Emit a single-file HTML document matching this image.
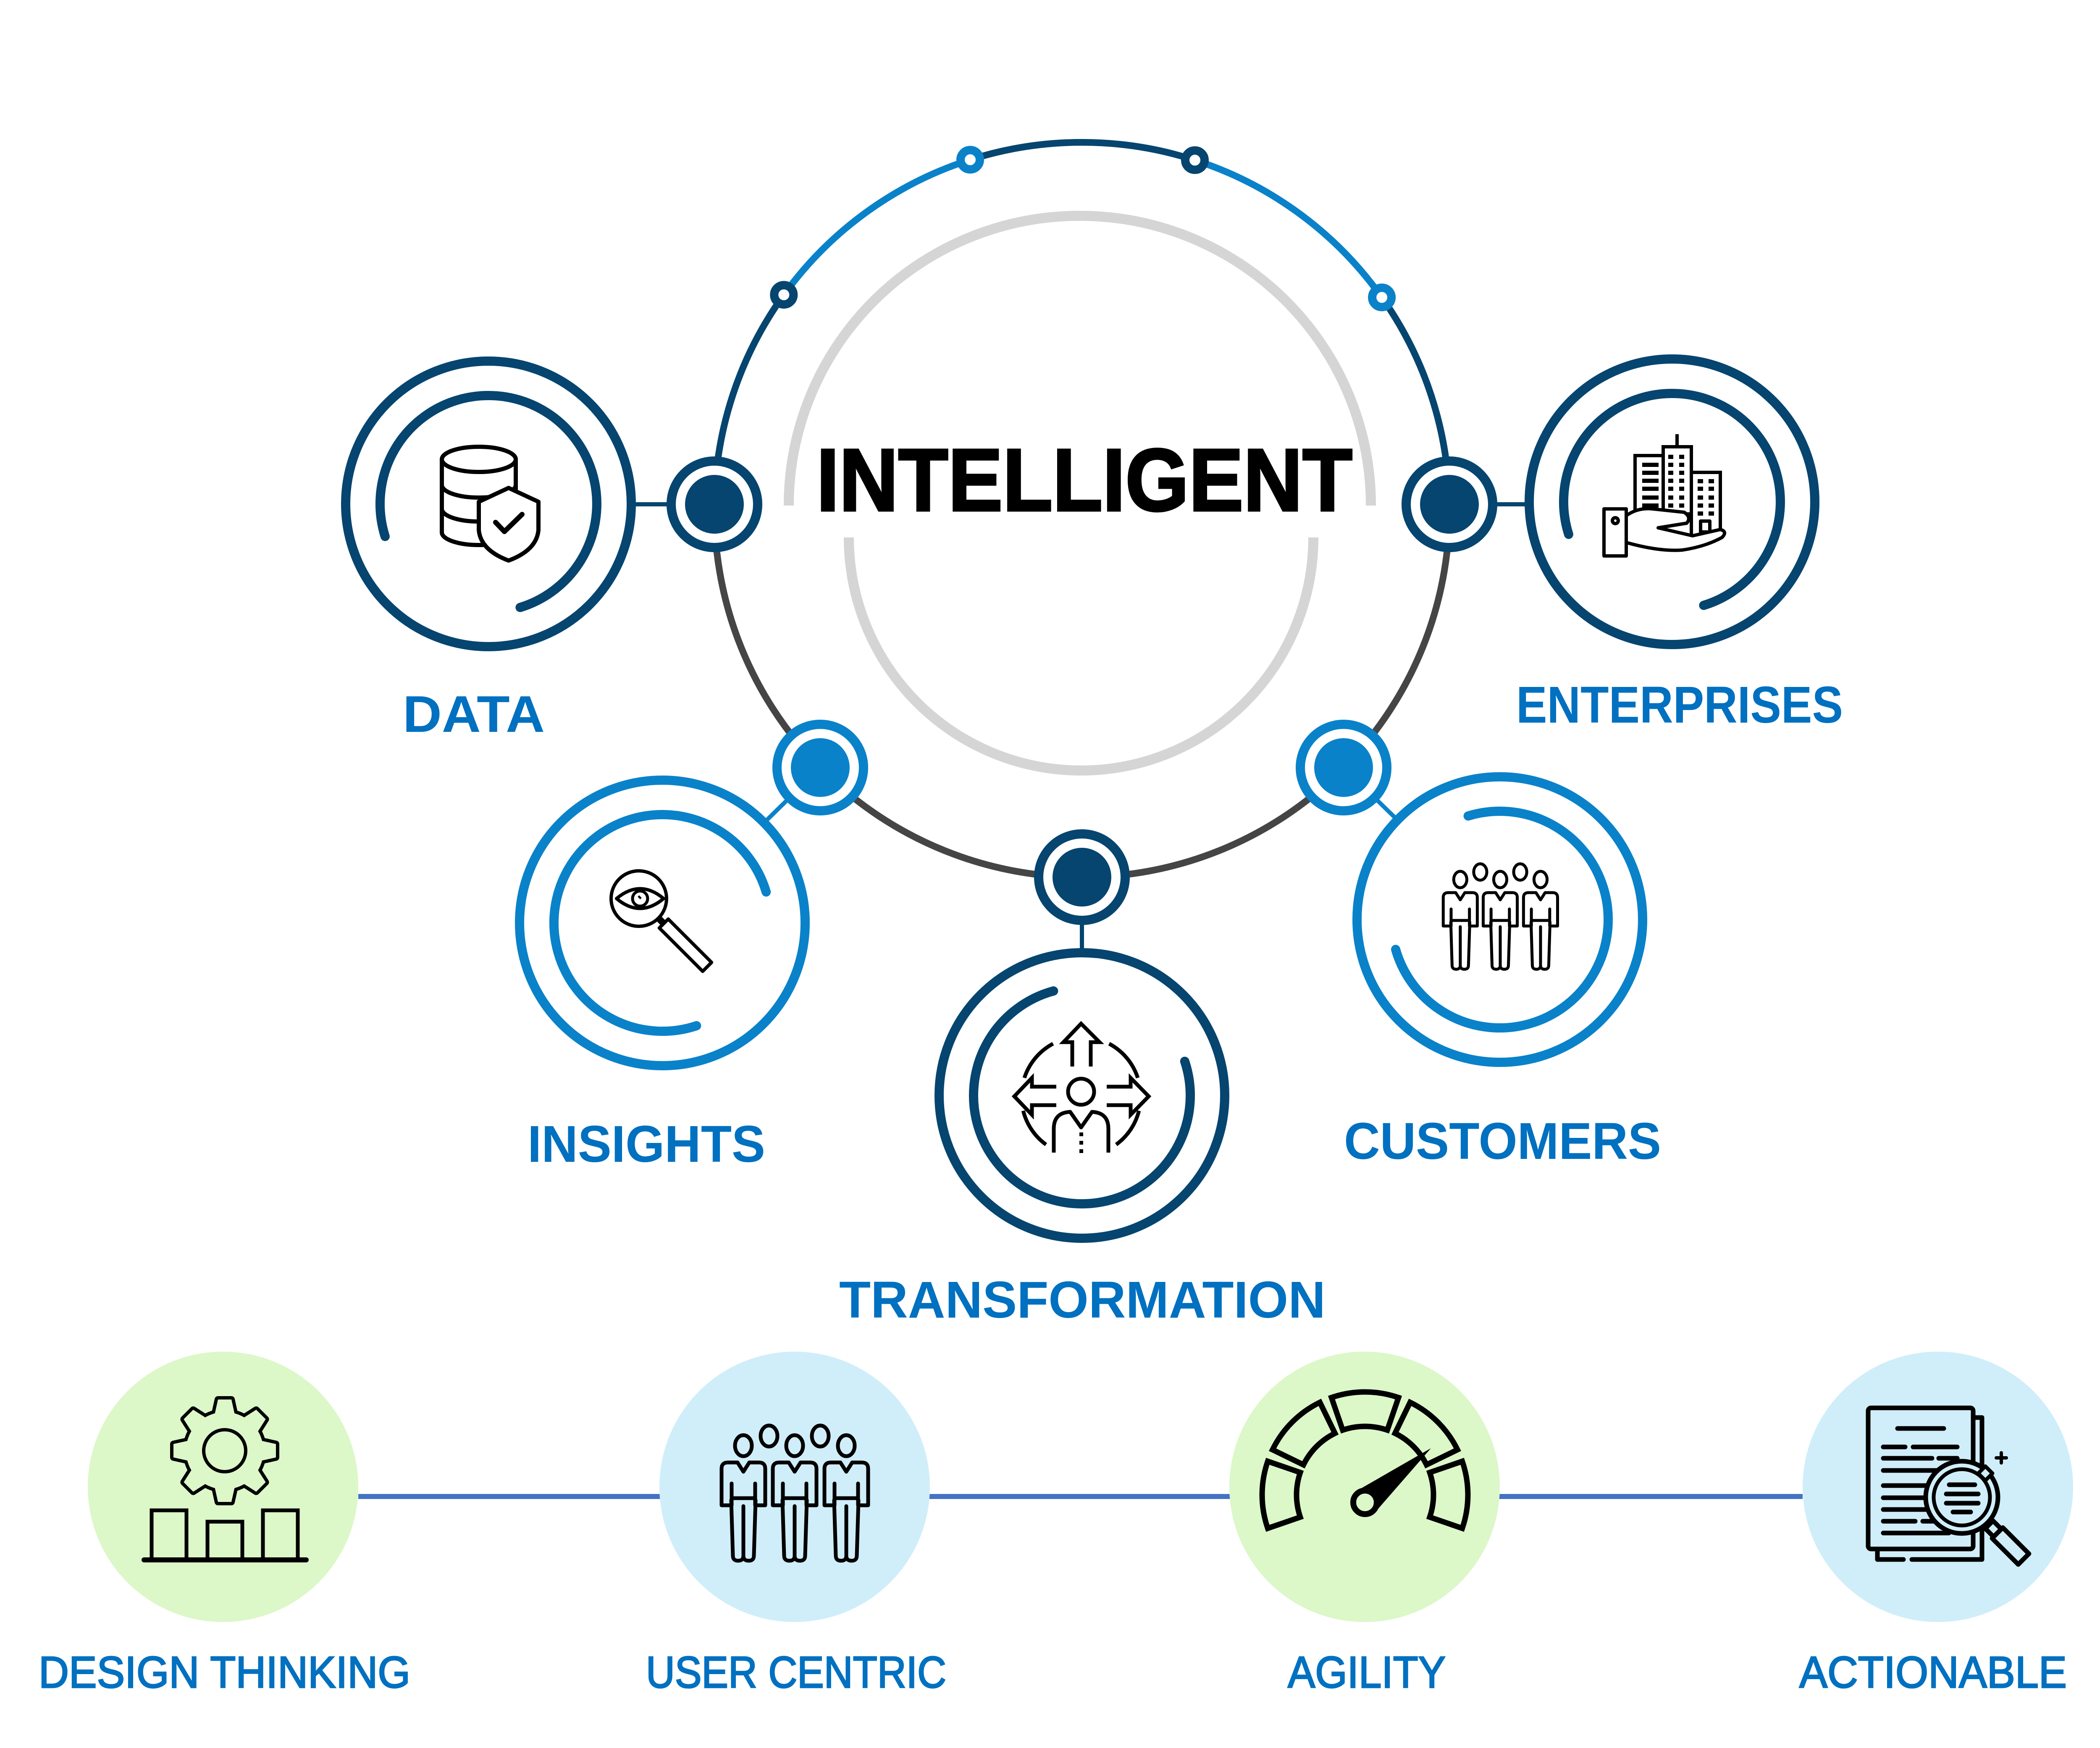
<!DOCTYPE html>
<html><head><meta charset="utf-8">
<style>
html,body{margin:0;padding:0;background:#ffffff;width:5093px;height:4163px;overflow:hidden;}
svg{display:block}
</style></head>
<body>
<svg width="5093" height="4163" viewBox="0 0 5093 4163" xmlns="http://www.w3.org/2000/svg">
<defs>
  <g id="person">
    <path d="M-28,50 L-28,102 L-52,102 L-52,15 Q-52,0 -37,0 L-14,0 L0,22 L14,0 L37,0 Q52,0 52,15 L52,102 L28,102 L28,50 M-28,85 L28,85 M-29,90 L-25,222 Q-25,234 -12.5,234 Q0,234 0,222 L0,104 M0,222 Q0,234 12.5,234 Q25,234 25,222 L29,90"/>
  </g>
  <g id="people" fill="none" stroke="#000" stroke-width="9" stroke-linejoin="round" stroke-linecap="round">
    <ellipse cx="-61" cy="-135" rx="20" ry="25"/>
    <ellipse cx="61" cy="-135" rx="20" ry="25"/>
    <ellipse cx="-122" cy="-112" rx="20" ry="25"/>
    <ellipse cx="0" cy="-112" rx="20" ry="25"/>
    <ellipse cx="123" cy="-112" rx="20" ry="25"/>
    <use href="#person" transform="translate(-122,-72)"/>
    <use href="#person" transform="translate(0,-72)"/>
    <use href="#person" transform="translate(123,-72)"/>
  </g>
  <g id="gearShape">
    <circle cx="0" cy="0" r="92"/>
    <polygon points="-16,-122 16,-122 24,-86 -24,-86"/>
    <polygon points="-16,-122 16,-122 24,-86 -24,-86" transform="rotate(45)"/>
    <polygon points="-16,-122 16,-122 24,-86 -24,-86" transform="rotate(90)"/>
    <polygon points="-16,-122 16,-122 24,-86 -24,-86" transform="rotate(135)"/>
    <polygon points="-16,-122 16,-122 24,-86 -24,-86" transform="rotate(180)"/>
    <polygon points="-16,-122 16,-122 24,-86 -24,-86" transform="rotate(225)"/>
    <polygon points="-16,-122 16,-122 24,-86 -24,-86" transform="rotate(270)"/>
    <polygon points="-16,-122 16,-122 24,-86 -24,-86" transform="rotate(315)"/>
  </g>
</defs>

<rect x="0" y="0" width="5093" height="4163" fill="#ffffff"/>

<!-- Big circle arcs -->
<g fill="none" stroke-width="16">
  <path d="M1701.1,1201 A875,875 0 0 1 1866.3,702.1" stroke="#05456f"/>
  <path d="M1866.3,702.1 A875,875 0 0 1 2310,380.4" stroke="#0a82c9"/>
  <path d="M2310,380.4 A875,875 0 0 1 2845,381.4" stroke="#05456f"/>
  <path d="M2845,381.4 A875,875 0 0 1 3290.1,708.3" stroke="#0a82c9"/>
  <path d="M3290.1,708.3 A875,875 0 0 1 3450.9,1201" stroke="#05456f"/>
  <path d="M3450.9,1201 A875,875 0 1 1 1701.1,1201" stroke="#454545"/>
</g>

<!-- Inner gray arcs -->
<g fill="none" stroke="#d5d5d5" stroke-width="24">
  <path d="M1878,1204 A693,690 0 0 1 3264,1204"/>
  <path d="M2021,1280 A553,555 0 0 0 3127,1280"/>
</g>

<!-- Small nodes on top arc -->
<g fill="#ffffff" stroke-width="20">
  <circle cx="1866.3" cy="702.1" r="23" stroke="#05456f"/>
  <circle cx="2310" cy="380.4" r="23" stroke="#0a82c9"/>
  <circle cx="2845" cy="381.4" r="23" stroke="#05456f"/>
  <circle cx="3290.1" cy="708.3" r="23" stroke="#0a82c9"/>
</g>

<!-- Connectors -->
<g stroke-width="10" fill="none">
  <line x1="1500" y1="1201" x2="1600" y2="1201" stroke="#05456f"/>
  <line x1="3552" y1="1201" x2="3643" y2="1201" stroke="#05456f"/>
  <line x1="1879.6" y1="1900.2" x2="1816" y2="1962.5" stroke="#0a82c9"/>
  <line x1="3272.8" y1="1899.8" x2="3330" y2="1955.5" stroke="#0a82c9"/>
  <line x1="2576" y1="2190" x2="2576" y2="2270" stroke="#05456f"/>
</g>

<!-- Icon circles -->
<g fill="none" stroke-width="22" stroke-linecap="round">
  <circle cx="1163" cy="1200" r="340" stroke="#05456f"/>
  <path d="M916.9,1277.6 A258,258 0 1 1 1238.4,1446.7" stroke="#05456f"/>
  <circle cx="3981" cy="1195" r="340" stroke="#05456f"/>
  <path d="M3734.9,1272.6 A258,258 0 1 1 4056.4,1441.7" stroke="#05456f"/>
  <circle cx="1577" cy="2198" r="340" stroke="#0a82c9"/>
  <path d="M1824.2,2124.3 A258,258 0 1 0 1658.4,2442.8" stroke="#0a82c9"/>
  <circle cx="3571" cy="2190" r="340" stroke="#0a82c9"/>
  <path d="M3495.6,1943.3 A258,258 0 1 1 3323,2261.1" stroke="#0a82c9"/>
  <circle cx="2576" cy="2609" r="340" stroke="#05456f"/>
  <path d="M2508.4,2360 A258,258 0 1 0 2820.8,2527.6" stroke="#05456f"/>
</g>

<!-- Big nodes -->
<g stroke-width="22" fill="#ffffff">
  <circle cx="1701" cy="1201" r="103" stroke="#05456f"/>
  <circle cx="3451" cy="1201" r="103" stroke="#05456f"/>
  <circle cx="1953" cy="1828" r="103" stroke="#0a82c9"/>
  <circle cx="3199" cy="1828" r="103" stroke="#0a82c9"/>
  <circle cx="2576" cy="2089" r="103" stroke="#05456f"/>
</g>
<circle cx="1701" cy="1201" r="70" fill="#05456f"/>
<circle cx="3451" cy="1201" r="70" fill="#05456f"/>
<circle cx="1953" cy="1828" r="70" fill="#0a82c9"/>
<circle cx="3199" cy="1828" r="70" fill="#0a82c9"/>
<circle cx="2576" cy="2089" r="70" fill="#05456f"/>

<!-- DATA icon -->
<g fill="none" stroke="#000" stroke-width="10" stroke-linejoin="round" stroke-linecap="round">
  <ellipse cx="1140" cy="1094" rx="88" ry="30" fill="#fff"/>
  <path d="M1052,1094 L1052,1268 M1228,1094 L1228,1175"/>
  <path d="M1052,1155 A88,30 0 0 0 1228,1155"/>
  <path d="M1052,1212 A88,30 0 0 0 1228,1212"/>
  <path d="M1052,1268 A88,30 0 0 0 1228,1268"/>
  <path d="M1211,1162 L1282,1195 L1282,1262 Q1278,1310 1211,1335 Q1144,1310 1140,1262 L1140,1195 Z" fill="#fff"/>
  <polyline points="1180,1244 1201,1266 1243,1225" stroke-width="12"/>
</g>

<!-- ENTERPRISES icon -->
<g stroke="#000" stroke-width="8" stroke-linejoin="miter">
  <line x1="3993" y1="1034" x2="3993" y2="1066"/>
  <rect x="3893" y="1085" width="67" height="140" fill="#fff"/>
  <rect x="3960" y="1064" width="67" height="160" fill="#fff"/>
  <rect x="4027" y="1125" width="69" height="152" fill="#fff"/>
</g>
<g fill="#000">
  <rect x="3910" y="1102" width="39" height="10"/>
  <rect x="3910" y="1121" width="39" height="10"/>
  <rect x="3910" y="1140" width="39" height="10"/>
  <rect x="3910" y="1159" width="39" height="10"/>
  <rect x="3910" y="1180" width="39" height="10"/>
  <rect x="3910" y="1199" width="39" height="10"/>
  <rect x="3972" y="1083" width="12" height="10"/><rect x="3998" y="1083" width="12" height="10"/>
  <rect x="3972" y="1102" width="12" height="10"/><rect x="3998" y="1102" width="12" height="10"/>
  <rect x="3972" y="1121" width="12" height="10"/><rect x="3998" y="1121" width="12" height="10"/>
  <rect x="3972" y="1140" width="12" height="10"/><rect x="3998" y="1140" width="12" height="10"/>
  <rect x="3972" y="1159" width="12" height="10"/><rect x="3998" y="1159" width="12" height="10"/>
  <rect x="3972" y="1180" width="12" height="10"/><rect x="3998" y="1180" width="12" height="10"/>
  <rect x="3972" y="1199" width="12" height="10"/><rect x="3998" y="1199" width="12" height="10"/>
  <rect x="4042" y="1141" width="13" height="10"/><rect x="4068" y="1141" width="13" height="10"/>
  <rect x="4042" y="1159" width="13" height="10"/><rect x="4068" y="1159" width="13" height="10"/>
  <rect x="4042" y="1180" width="13" height="10"/><rect x="4068" y="1180" width="13" height="10"/>
  <rect x="4042" y="1199" width="13" height="10"/><rect x="4068" y="1199" width="13" height="10"/>
  <rect x="4042" y="1218" width="13" height="10"/><rect x="4068" y="1218" width="13" height="10"/>
</g>
<g stroke="#000" stroke-width="8" stroke-linejoin="round" fill="#fff">
  <rect x="4049" y="1241" width="22" height="26"/>
  <path d="M3872,1228 Q3900,1208 3935,1212 L4010,1220 Q4028,1232 4016,1246 L3948,1257 L4030,1276 L4096,1261 Q4114,1266 4100,1280 Q4060,1302 4005,1310 Q3950,1314 3872,1292 Z"/>
  <rect x="3819" y="1212" width="53" height="112"/>
  <circle cx="3846" cy="1240" r="7"/>
</g>

<!-- INSIGHTS icon -->
<g fill="none" stroke="#000" stroke-width="8" stroke-linejoin="round">
  <circle cx="1521" cy="2140" r="66"/>
  <path d="M1468,2140 Q1524,2093 1580,2140 Q1524,2187 1468,2140 Z"/>
  <circle cx="1524" cy="2140" r="18" stroke-width="7"/>
  <path d="M1520,2134 L1526,2140" stroke-width="5"/>
  <g transform="translate(1521,2140) rotate(45)">
    <line x1="66" y1="0" x2="84" y2="0" stroke-width="16"/>
    <rect x="84" y="-15" width="146" height="30"/>
  </g>
</g>

<!-- TRANSFORMATION icon -->
<g fill="none" stroke="#000" stroke-width="9" stroke-linejoin="miter">
  <circle cx="2574" cy="2600" r="31"/>
  <path d="M2553,2540 L2553,2482 L2532,2482 L2574,2438 L2618,2482 L2597,2482 L2597,2540"/>
  <path d="M2515,2588 L2457,2588 L2457,2567 L2415,2611 L2457,2655 L2457,2632 L2515,2632"/>
  <path d="M2635,2588 L2692,2588 L2692,2567 L2735,2611 L2692,2655 L2692,2632 L2635,2632"/>
  <path d="M2509,2745 L2509,2688 Q2509,2650 2548,2648 L2574,2685 L2600,2648 Q2639,2650 2639,2688 L2639,2745" stroke-linejoin="round"/>
  <path d="M2439,2567 A142,142 0 0 1 2507.3,2485.6"/>
  <path d="M2640.7,2485.6 A142,142 0 0 1 2709,2567"/>
  <path d="M2711.8,2645.4 A142,142 0 0 1 2657.5,2725.9"/>
  <path d="M2490.5,2725.9 A142,142 0 0 1 2436.2,2645.4"/>
</g>
<g fill="#000">
  <rect x="2570" y="2697" width="9" height="9"/>
  <rect x="2570" y="2717" width="9" height="9"/>
  <rect x="2570" y="2737" width="9" height="9"/>
</g>

<!-- CUSTOMERS icon -->
<use href="#people" transform="translate(3572,2182) scale(0.78)"/>

<!-- Central title -->
<text x="1944" y="1216" textLength="1276" lengthAdjust="spacingAndGlyphs" font-family="'Liberation Sans', Arial, sans-serif" font-weight="bold" font-size="211" fill="#000" stroke="#000" stroke-width="5">INTELLIGENT</text>

<!-- Upper labels -->
<g font-family="'Liberation Sans', Arial, sans-serif" font-weight="bold" font-size="123" fill="#0070c0">
  <text x="959" y="1743" textLength="338" lengthAdjust="spacingAndGlyphs">DATA</text>
  <text x="3610" y="1721" textLength="778" lengthAdjust="spacingAndGlyphs">ENTERPRISES</text>
  <text x="1256" y="2767" textLength="566" lengthAdjust="spacingAndGlyphs">INSIGHTS</text>
  <text x="3200" y="2760" textLength="755" lengthAdjust="spacingAndGlyphs">CUSTOMERS</text>
  <text x="1998" y="3138" textLength="1158" lengthAdjust="spacingAndGlyphs">TRANSFORMATION</text>
</g>

<!-- Bottom row -->
<line x1="853" y1="3564" x2="4292" y2="3564" stroke="#4472c4" stroke-width="12"/>
<circle cx="531" cy="3541" r="322" fill="#dcf7c8"/>
<circle cx="1892" cy="3541" r="322" fill="#d0eefa"/>
<circle cx="3249" cy="3541" r="322" fill="#dcf7c8"/>
<circle cx="4614" cy="3541" r="322" fill="#d0eefa"/>

<!-- Gear + bars -->
<use href="#gearShape" transform="translate(535,3455)" fill="#000" stroke="#000" stroke-width="16" stroke-linejoin="round"/>
<use href="#gearShape" transform="translate(535,3455)" fill="#dcf7c8" stroke="none"/>
<circle cx="535" cy="3455" r="50" fill="none" stroke="#000" stroke-width="8"/>
<g fill="none" stroke="#000" stroke-width="9">
  <rect x="361" y="3597" width="83" height="118"/>
  <rect x="494" y="3624" width="83" height="91"/>
  <rect x="626" y="3597" width="83" height="118"/>
</g>
<line x1="343" y1="3715" x2="729" y2="3715" stroke="#000" stroke-width="12" stroke-linecap="round"/>

<!-- People (user centric) -->
<use href="#people" transform="translate(1892,3555)"/>

<!-- Speedometer -->
<g fill="none" stroke="#000" stroke-width="13" stroke-linejoin="miter">
  <path d="M3018.4,3639.8 A245,245 0 0 1 3018.4,3480.2 L3095.9,3506.9 A163,163 0 0 0 3095.9,3613.1 Z"/>
  <path d="M3029.8,3452.6 A245,245 0 0 1 3142.6,3339.8 L3178.5,3413.5 A163,163 0 0 0 3103.5,3488.5 Z"/>
  <path d="M3170.2,3328.4 A245,245 0 0 1 3329.8,3328.4 L3303.1,3405.9 A163,163 0 0 0 3196.9,3405.9 Z"/>
  <path d="M3357.4,3339.8 A245,245 0 0 1 3470.2,3452.6 L3396.5,3488.5 A163,163 0 0 0 3321.5,3413.5 Z"/>
  <path d="M3481.6,3480.2 A245,245 0 0 1 3481.6,3639.8 L3404.1,3613.1 A163,163 0 0 0 3404.1,3506.9 Z"/>
</g>
<polygon points="3407,3449 3272,3604 3228,3552" fill="#000"/>
<circle cx="3250" cy="3578" r="28" fill="#dcf7c8" stroke="#000" stroke-width="14"/>

<!-- Document search -->
<g fill="none" stroke="#000" stroke-width="11" stroke-linecap="round" stroke-linejoin="round">
  <path d="M4698,3376 L4719,3376 L4719,3714 L4552,3714 M4532,3714 L4470,3714 L4470,3695"/>
  <rect x="4448" y="3353" width="250" height="336" rx="7" fill="#d0eefa"/>
  <line x1="4518" y1="3402" x2="4628" y2="3402"/>
  <line x1="4484" y1="3446" x2="4536" y2="3446"/>
  <line x1="4555" y1="3446" x2="4660" y2="3446"/>
  <line x1="4484" y1="3473" x2="4600" y2="3473"/>
  <line x1="4616" y1="3473" x2="4660" y2="3473"/>
  <line x1="4484" y1="3502" x2="4620" y2="3502"/>
  <line x1="4484" y1="3538" x2="4610" y2="3538"/>
  <line x1="4484" y1="3567" x2="4600" y2="3567"/>
  <line x1="4484" y1="3595" x2="4610" y2="3595"/>
  <line x1="4484" y1="3623" x2="4560" y2="3623"/>
  <line x1="4578" y1="3623" x2="4620" y2="3623"/>
  <line x1="4484" y1="3651" x2="4640" y2="3651"/>
  <circle cx="4671" cy="3566" r="86" fill="#d0eefa"/>
  <circle cx="4671" cy="3566" r="67" stroke-width="9"/>
  <line x1="4641" y1="3536" x2="4702" y2="3536"/>
  <line x1="4634" y1="3558" x2="4710" y2="3558"/>
  <line x1="4634" y1="3580" x2="4710" y2="3580"/>
  <line x1="4650" y1="3601" x2="4692" y2="3601"/>
  <g transform="translate(4671,3566) rotate(45)">
    <rect x="92" y="-13" width="28" height="26" fill="#d0eefa"/>
    <rect x="120" y="-18" width="88" height="36" fill="#d0eefa"/>
  </g>
  <polygon points="4727,3492 4744,3509 4727,3526 4710,3509" fill="#d0eefa" stroke-width="9"/>
  <line x1="4765" y1="3460" x2="4765" y2="3484" stroke-width="8"/>
  <line x1="4753" y1="3472" x2="4777" y2="3472" stroke-width="8"/>
</g>

<!-- Bottom labels -->
<g font-family="'Liberation Sans', Arial, sans-serif" font-size="106" fill="#0070c0" stroke="#0070c0" stroke-width="3">
  <text x="92" y="4019" textLength="885" lengthAdjust="spacingAndGlyphs">DESIGN THINKING</text>
  <text x="1538" y="4019" textLength="715" lengthAdjust="spacingAndGlyphs">USER CENTRIC</text>
  <text x="3066" y="4019" textLength="376" lengthAdjust="spacingAndGlyphs">AGILITY</text>
  <text x="4284" y="4019" textLength="637" lengthAdjust="spacingAndGlyphs">ACTIONABLE</text>
</g>
</svg>
</body></html>
